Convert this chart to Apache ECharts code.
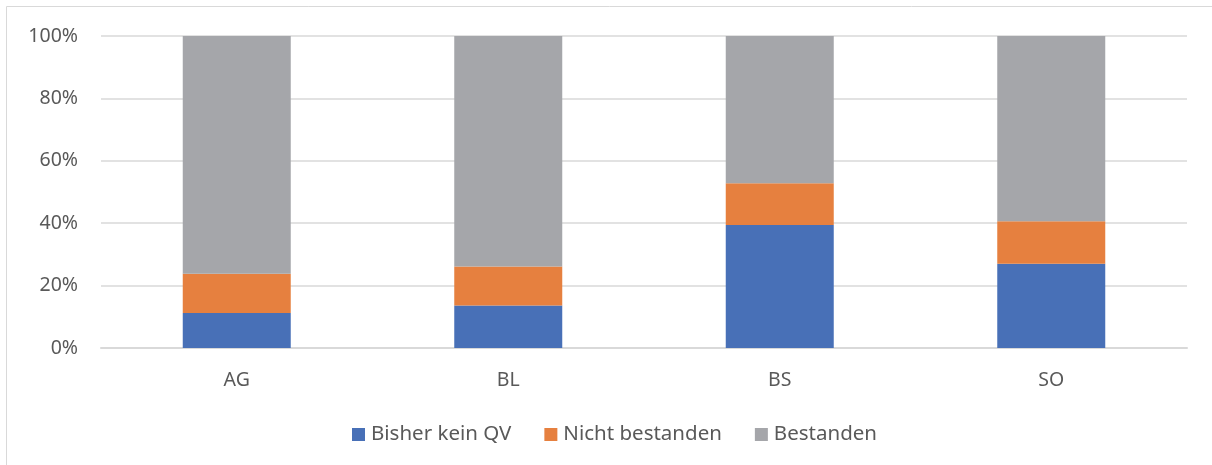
<!DOCTYPE html>
<html>
<head>
<meta charset="utf-8">
<script src="https://cdn.jsdelivr.net/npm/echarts@6/dist/echarts.min.js"></script>
<style>
  html, body { margin: 0; padding: 0; background: #fff; }
  #chart { width: 1212px; height: 465px; }
</style>
</head>
<body>
<div id="chart"></div>
<script>
const categories = ['AG', 'BL', 'BS', 'SO']
const seriesNames = ['Bisher kein QV', 'Nicht bestanden', 'Bestanden']
const bisherKeinQV = [11.2, 13.6, 39.4, 27.0]
const nichtBestanden = [12.6, 12.5, 13.4, 13.6]
const bestanden = [76.2, 73.9, 47.2, 59.4]

const chart = echarts.init(document.getElementById('chart'))
const font = '"Noto Sans", "Open Sans", sans-serif'

chart.setOption({
    animation: false,
    textStyle: { fontFamily: font },
    graphic: [{
        type: 'rect',
        shape: { x: 6.5, y: 6.5, width: 1300, height: 600 },
        style: { fill: 'none', stroke: '#D9D9D9', lineWidth: 1 },
        silent: true
    }],
    legend: {
        data: seriesNames,
        bottom: 15,
        left: 347,
        itemWidth: 13,
        itemHeight: 13,
        itemGap: 33,
        icon: 'rect',
        textStyle: { color: '#595959', fontSize: 20.5, fontFamily: font, padding: [0, 0, 0, 1] }
    },
    grid: {
        left: 101,
        right: 25,
        top: 36,
        bottom: 117
    },
    xAxis: {
        type: 'category',
        data: categories,
        axisTick: { show: false },
        axisLine: { lineStyle: { color: '#D9D9D9', width: 2 } },
        axisLabel: { color: '#595959', fontSize: 19.5, margin: 22 },
        splitLine: { show: false }
    },
    yAxis: {
        type: 'value',
        min: 0,
        max: 100,
        interval: 20,
        axisLine: { show: false },
        axisTick: { show: false },
        axisLabel: { color: '#595959', fontSize: 19.5, margin: 23, formatter: '{value}%' },
        splitLine: { lineStyle: { color: '#D9D9D9', width: 1.5 } }
    },
    series: [
        {
            name: seriesNames[0],
            type: 'bar',
            stack: 'one',
            barWidth: 108,
            data: bisherKeinQV,
            itemStyle: { color: '#4870B7' }
        },
        {
            name: seriesNames[1],
            type: 'bar',
            stack: 'one',
            barWidth: 108,
            data: nichtBestanden,
            itemStyle: { color: '#E6803F' }
        },
        {
            name: seriesNames[2],
            type: 'bar',
            stack: 'one',
            barWidth: 108,
            data: bestanden,
            itemStyle: { color: '#A5A6AA' }
        }
    ]
})
</script>
</body>
</html>
